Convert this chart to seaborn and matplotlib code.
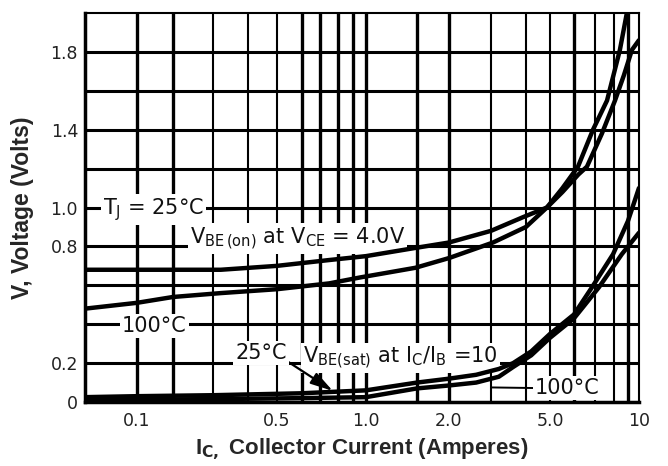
import numpy as np
import pandas as pd
import matplotlib
matplotlib.use("Agg")
import matplotlib.pyplot as plt
import seaborn as sns

# curves (collector current in A, volts)
ic_on_25 = [0.04, 0.1, 0.2, 0.32, 0.5, 0.75, 1.0, 1.45, 2.0, 3.0, 3.9, 4.86, 5.5, 6.2, 6.6, 7.35, 8.07, 8.7, 9.35, 10.0]
v_on_25 = [0.68, 0.68, 0.68, 0.68, 0.70, 0.73, 0.75, 0.79, 0.82, 0.88, 0.95, 1.0, 1.08, 1.17, 1.21, 1.38, 1.55, 1.68, 1.81, 1.86]
ic_on_100 = [0.04, 0.1, 0.2, 0.32, 0.5, 0.75, 0.95, 1.48, 2.0, 3.05, 4.0, 4.86, 5.5, 6.18, 6.9, 7.62, 8.41, 8.92, 9.3]
v_on_100 = [0.48, 0.51, 0.54, 0.56, 0.58, 0.61, 0.64, 0.69, 0.74, 0.82, 0.90, 1.0, 1.1, 1.21, 1.40, 1.55, 1.81, 2.0, 2.15]
ic_sat_25 = [0.04, 0.1, 0.3, 0.6, 1.0, 1.5, 2.0, 2.6, 3.2, 3.6, 4.2, 5.0, 6.0, 6.85, 7.95, 9.0, 10.0]
v_sat_25 = [0.025, 0.03, 0.035, 0.045, 0.06, 0.10, 0.12, 0.14, 0.17, 0.20, 0.26, 0.35, 0.45, 0.59, 0.76, 0.93, 1.10]
ic_sat_100 = [0.04, 0.1, 0.3, 0.6, 1.0, 1.5, 2.0, 2.6, 3.2, 3.6, 4.2, 5.0, 6.0, 7.2, 8.55, 10.0]
v_sat_100 = [0.01, 0.012, 0.015, 0.02, 0.025, 0.07, 0.085, 0.10, 0.13, 0.18, 0.24, 0.33, 0.43, 0.59, 0.76, 0.87]

x_tick_vals = [0.1, 0.5, 1.0, 2.0, 5.0, 10]
x_tick_labels = ["0.1", "0.5", "1.0", "2.0", "5.0", "10"]
y_tick_vals = [0, 0.2, 0.4, 0.6, 0.8, 1.0, 1.2, 1.4, 1.6, 1.8]
y_tick_labels = ["0", "0.2", "", "", "0.8", "1.0", "", "1.4", "", "1.8"]

# the printed log axis is not uniform -> piecewise log scale
scale_amps = [0.04, 0.1, 0.2, 0.3, 0.4, 0.5, 0.6, 0.7, 0.8, 0.9, 1.0, 1.5, 2, 3, 4, 5, 6, 7, 8, 9, 10]
scale_frac = [0, 0.0939, 0.1588, 0.2310, 0.2942, 0.3466, 0.3917, 0.4242, 0.4567, 0.4838, 0.5072,
              0.5993, 0.6570, 0.7329, 0.7960, 0.8394, 0.8827, 0.9206, 0.9549, 0.9801, 1.0]
log_amps = np.log10(scale_amps)

grid_thick = [0.1, 0.2, 0.6, 0.7, 0.8, 0.9, 1.0, 1.5, 2, 6, 9]
grid_thin = [0.3, 0.4, 0.5, 3, 4, 5, 7, 8]


def fwd(x):
    x = np.asarray(x, dtype=float)
    return np.interp(np.log10(np.clip(x, 1e-9, None)), log_amps, scale_frac)


def inv(f):
    return 10 ** np.interp(np.asarray(f, dtype=float), scale_frac, log_amps)


def curve(name, ic, v):
    return pd.DataFrame({"curve": name, "ic": ic, "v": v})


df = pd.concat([
    curve("on25", ic_on_25, v_on_25),
    curve("on100", ic_on_100, v_on_100),
    curve("sat25", ic_sat_25, v_sat_25),
    curve("sat100", ic_sat_100, v_sat_100),
], ignore_index=True)

sns.set_style("white")
plt.rcParams['font.family'] = ['DejaVu Sans']

fig = plt.figure(figsize=(6.68, 4.66), dpi=100)
ax = fig.add_axes([0.1272, 0.1373, 0.8293, 0.8348])

sns.lineplot(data=df, x="ic", y="v", units="curve", estimator=None, sort=False,
             color="black", lw=3.2, ax=ax, zorder=3, legend=False)

ax.set_xscale("function", functions=(fwd, inv))
ax.set_xlim(0.04, 10)
ax.set_ylim(0, 2.0)

# grid of the original chart
for g in grid_thick:
    ax.axvline(g, color="black", lw=2.4, zorder=1)
for g in grid_thin:
    ax.axvline(g, color="black", lw=1.5, zorder=1)
for g in y_tick_vals[1:]:
    ax.axhline(g, color="black", lw=2.2, zorder=1)

ax.set_xticks(x_tick_vals)
ax.set_xticklabels(x_tick_labels)
ax.xaxis.set_minor_locator(matplotlib.ticker.NullLocator())
ax.set_yticks(y_tick_vals)
ax.set_yticklabels(y_tick_labels)
ax.tick_params(length=0, labelsize=12.5, labelcolor="#222222")
ax.tick_params(axis="x", pad=7)
ax.tick_params(axis="y", pad=5)

for side in ["left", "bottom"]:
    ax.spines[side].set_linewidth(2.5)
for side in ["top", "right"]:
    ax.spines[side].set_linewidth(1.5)
for sp in ax.spines.values():
    sp.set_color("black")
    sp.set_zorder(4)

ax.set_xlabel(r"I$_{\mathbf{C,}}$ Collector Current (Amperes)", fontsize=16,
              fontweight="bold", family="Liberation Sans", labelpad=5)
ax.set_ylabel("V, Voltage (Volts)", fontsize=16.5, fontweight="bold",
              family="Liberation Sans", labelpad=12)

box = dict(facecolor="white", edgecolor="none", pad=1.5)
txt = dict(fontsize=15, color="#111111", va="baseline", ha="left", bbox=box, zorder=2)

ax.text(0.055, 0.965, r"T$_\mathrm{J}$ = 25°C", **txt)
ax.text(0.238, 0.815, r"V$_{\mathrm{BE\,(on)}}$ at V$_{\mathrm{CE}}$ = 4.0V", **txt)
ax.text(0.077, 0.36, "100°C", **txt)
ax.text(0.605, 0.20, r"V$_{\mathrm{BE(sat)}}$ at I$_{\mathrm{C}}$/I$_{\mathrm{B}}$ =10", **txt)

ax.annotate("25°C", xy=(0.77, 0.057), xytext=(0.36, 0.222), **txt,
            arrowprops=dict(arrowstyle="-|>,head_length=0.9,head_width=0.25", lw=1.6,
                            color="black", relpos=(1.0, 0.1), shrinkA=0, shrinkB=0))
ax.annotate("100°C", xy=(3.0, 0.075), xytext=(4.35, 0.041), **txt,
            arrowprops=dict(arrowstyle="-", lw=1.4, color="black",
                            relpos=(0.0, 0.5), shrinkA=0, shrinkB=0))

fig.savefig("out.png", dpi=100)
